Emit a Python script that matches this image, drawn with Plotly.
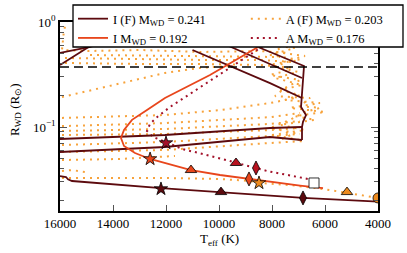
import plotly.graph_objects as go

# ---------------- data (Teff in K, R_WD in R_sun) ----------------
# I (F) M_WD = 0.241 : segments separated by None
IF_teff = [16000, 14868, 14491, None,
           16000, 14981, 14679, None,
           11000, 8075, 6870, None,
           10150, 6868, None,
           9170, 6792, 6830, 6868, 6905, 6717, 6830, 6868, 6868, None,
           16000, 12038, 8075, 6868, None,
           16000, 12038, 8075, 6868, None,
           16000, 15774, 15698, 15547, 12189, 9925, 8264, 6830, 4000]
IF_r = [0.507, 0.578, 0.617, None,
        0.390, 0.565, 0.617, None,
        0.541, 0.262, 0.189, None,
        0.674, 0.293, None,
        0.674, 0.381, 0.280, 0.189, 0.155, 0.130, 0.112, 0.100, 0.0752, None,
        0.0769, 0.0839, 0.0978, 0.100, None,
        0.0578, 0.0645, 0.0803, 0.0752, None,
        0.0341, 0.0334, 0.0318, 0.0306, 0.0262, 0.0240, 0.0225, 0.0211, 0.0195]

# I M_WD = 0.192
I_teff = [6600, 8528, 10340, 12038, 12717, 13283, 13585, 13698, 13585, 13170,
          12604, 12038, 11057, 9962, 8868, 8075, 6943, 6075]
I_r = [1.30, 0.578, 0.313, 0.189, 0.145, 0.117, 0.0936, 0.0786, 0.0660, 0.0565,
       0.0496, 0.0454, 0.0389, 0.0349, 0.0320, 0.0299, 0.0277, 0.0262]

# A M_WD = 0.176
A_teff = [6264, 8377, 10151, 11283, 11849, 12340, 12604, 12717, 12490, 12000,
          11396, 10604, 9698, 9358, 8604, 8189, 6642]
A_r = [1.30, 0.578, 0.293, 0.193, 0.155, 0.124, 0.107, 0.0916, 0.0803, 0.0720,
       0.0617, 0.0553, 0.0485, 0.0454, 0.0407, 0.0381, 0.0320]

# A (F) M_WD = 0.203 : many segments separated by None
AF_teff = [15736, 15849, 15887, 15925, 14943, 12981, 10717, 8453, 7321, None,
           14868, 10717, 7698, None,
           15811, 12981, 10717, 8453, 7245, None,
           15811, 12981, 10717, 8453, 7132, None,
           15925, 14113, 12038, 10717, 9585, None,
           15925, 12038, 9962, 8075, 7132, None,
           15925, 12038, 8075, 6943, None,
           15925, 12038, 8075, 6943, None,
           15925, 12038, 8075, 6943, None,
           15925, 12038, 8075, 6943, None,
           15925, 12038, 8075, 6755, None,
           15925, 13736, 11660, None,
           15925, 15547, 15057, None,
           15925, 13736, 12038, 9962, 8830, 8491, 7321, 6075, 5170, 4000, None,
           8264, 7132, 8075, 6943, 8151, 7019, 7887, 6868, 7698, 6943, 7509, 6189,
           7321, 6000, 7132, 6377, 7698, 6755, 8000, 6943, None,
           7509, 7887, 6755, 7698, 7321, 8075, 6943, 7509, 7887, 6566, 6943, 6189,
           6755, 7321, 8075, 7132, 7698]
AF_r = [1.045, 0.839, 0.674, 0.541, 0.529, 0.541, 0.518, 0.529, 0.507, None,
        0.485, 0.475, 0.464, None,
        0.454, 0.444, 0.435, 0.435, 0.416, None,
        0.407, 0.398, 0.398, 0.390, 0.365, None,
        0.193, 0.246, 0.327, 0.365, 0.381, None,
        0.122, 0.130, 0.145, 0.169, 0.189, None,
        0.102, 0.109, 0.124, 0.136, None,
        0.0916, 0.0957, 0.107, 0.114, None,
        0.0839, 0.0858, 0.0936, 0.0978, None,
        0.0674, 0.0720, 0.0821, 0.0858, None,
        0.0578, 0.0604, 0.0704, 0.0736, None,
        0.0485, 0.0496, 0.0530, None,
        0.0381, 0.0389, 0.0373, None,
        0.0327, 0.0327, 0.0327, 0.0320, 0.0306, 0.0293, 0.0280, 0.0257, 0.0235, 0.0211, None,
        0.604, 0.565, 0.485, 0.435, 0.390, 0.334, 0.293, 0.251, 0.225, 0.202, 0.181, 0.169,
        0.152, 0.139, 0.127, 0.117, 0.105, 0.0936, 0.0839, 0.0752, None,
        0.617, 0.518, 0.475, 0.407, 0.349, 0.313, 0.280, 0.235, 0.197, 0.189, 0.158, 0.152,
        0.139, 0.117, 0.0978, 0.0877, 0.0752]

# marked points on each track: star, triangle, diamond / square / circle
IF_mark_teff = [12190, 9925, 6830]
IF_mark_r = [0.0257, 0.0240, 0.0211]
I_mark_teff = [12600, 11057, 8868]
I_mark_r = [0.0496, 0.0389, 0.0320]
A_mark_teff = [12000, 9358, 8604, 6415]
A_mark_r = [0.0704, 0.0454, 0.0407, 0.0293]
AF_mark_teff = [8491, 5170, 4000]
AF_mark_r = [0.0293, 0.0240, 0.0211]

roche_r = 0.373
x_ticks = [16000, 14000, 12000, 10000, 8000, 6000, 4000]
x_tick_text = ["16000", "14000", "12000", "10000", "8000", "6000", "4000"]
y_major = [0.1, 1.0]
y_major_text = ["10<sup>\u22121</sup>", "10<sup>0</sup>"]
y_minor = [0.02, 0.03, 0.04, 0.05, 0.06, 0.07, 0.08, 0.09,
           0.2, 0.3, 0.4, 0.5, 0.6, 0.7, 0.8, 0.9]
x_title = "T<sub>eff</sub> (K)"
y_title = "R<sub>WD</sub> (R<sub>\u2299</sub>)"

C_IF = "#5c0a0e"
C_I = "#e8461c"
C_AF = "#f7a33c"
C_A = "#a3122a"

fig = go.Figure()

fig.add_trace(go.Scatter(x=AF_teff, y=AF_r, mode="lines", name="A (F) M<sub>WD</sub> = 0.203",
                         line=dict(color=C_AF, width=2, dash="2px,5px"),
                         legend="legend2", legendrank=1))
fig.add_trace(go.Scatter(x=A_teff, y=A_r, mode="lines", name="A M<sub>WD</sub> = 0.176",
                         line=dict(color=C_A, width=2, dash="2px,4px"),
                         legend="legend2", legendrank=2))
fig.add_trace(go.Scatter(x=IF_teff, y=IF_r, mode="lines", name="I (F) M<sub>WD</sub> = 0.241",
                         line=dict(color=C_IF, width=1.8), legendrank=1))
fig.add_trace(go.Scatter(x=I_teff, y=I_r, mode="lines", name="I M<sub>WD</sub> = 0.192",
                         line=dict(color=C_I, width=1.8), legendrank=2))

fig.add_trace(go.Scatter(x=[16000, 4000], y=[roche_r, roche_r], mode="lines", showlegend=False,
                         line=dict(color="black", width=1.6, dash="9px,5px")))

mk_line = dict(color="black", width=0.8)
fig.add_trace(go.Scatter(x=IF_mark_teff, y=IF_mark_r, mode="markers", showlegend=False,
                         marker=dict(symbol=["star", "triangle-up", "diamond-tall"], size=10,
                                     color=C_IF, line=mk_line)))
fig.add_trace(go.Scatter(x=I_mark_teff, y=I_mark_r, mode="markers", showlegend=False,
                         marker=dict(symbol=["star", "triangle-up", "diamond-tall"], size=10,
                                     color=C_I, line=mk_line)))
fig.add_trace(go.Scatter(x=A_mark_teff, y=A_mark_r, mode="markers", showlegend=False,
                         marker=dict(symbol=["star", "triangle-up", "diamond-tall", "square"], size=10,
                                     color=[C_A, "#b8121f", "#b8121f", "white"], line=mk_line)))
fig.add_trace(go.Scatter(x=AF_mark_teff, y=AF_mark_r, mode="markers", showlegend=False,
                         marker=dict(symbol=["star", "triangle-up", "circle"], size=10,
                                     color="#ec8a1e", line=mk_line)))

leg_common = dict(orientation="v", xanchor="left", yanchor="top", xref="container",
                  yref="container", bgcolor="rgba(0,0,0,0)", borderwidth=0,
                  font=dict(size=12.5), tracegroupgap=0, itemwidth=30)

fig.update_layout(
    width=407, height=253,
    margin=dict(l=60, r=29, t=22, b=42, autoexpand=False),
    paper_bgcolor="white", plot_bgcolor="white",
    font=dict(family="Liberation Serif", size=13, color="black"),
    legend=dict(x=0.1794, y=0.984, **leg_common),
    legend2=dict(x=0.604, y=0.984, **leg_common),
    shapes=[dict(type="rect", xref="paper", yref="paper", x0=0.0409, x1=1.0786,
                 y0=0.8677, y1=1.0899, fillcolor="white",
                 line=dict(color="black", width=1.3), layer="above")],
    annotations=[
        dict(text=x_title, xref="paper", yref="paper", x=0.5, y=-0.153,
             xanchor="center", yanchor="middle", showarrow=False, font=dict(size=13)),
        dict(text=y_title, xref="paper", yref="paper", x=-0.142, y=0.534, textangle=-90,
             xanchor="center", yanchor="middle", showarrow=False, font=dict(size=13)),
    ],
)
fig.update_xaxes(range=[16000, 4000], tickvals=x_ticks, ticktext=x_tick_text,
                 ticks="inside", ticklen=6, tickwidth=1,
                 tickcolor="#555", showline=True, linewidth=1.5, linecolor="black", mirror="ticks",
                 showgrid=False, zeroline=False)
fig.update_yaxes(type="log", range=[-1.8, 0], tickvals=y_major, ticktext=y_major_text,
                 ticks="inside", ticklen=7, tickwidth=1, tickcolor="#555",
                 minor=dict(tickvals=y_minor, ticks="inside", ticklen=4, tickcolor="#555"),
                 showline=True, linewidth=1.5, linecolor="black", mirror="ticks",
                 showgrid=False, zeroline=False)

fig.write_html("out.html", config={"displayModeBar": False},
               post_script="document.body.style.margin='0';")
